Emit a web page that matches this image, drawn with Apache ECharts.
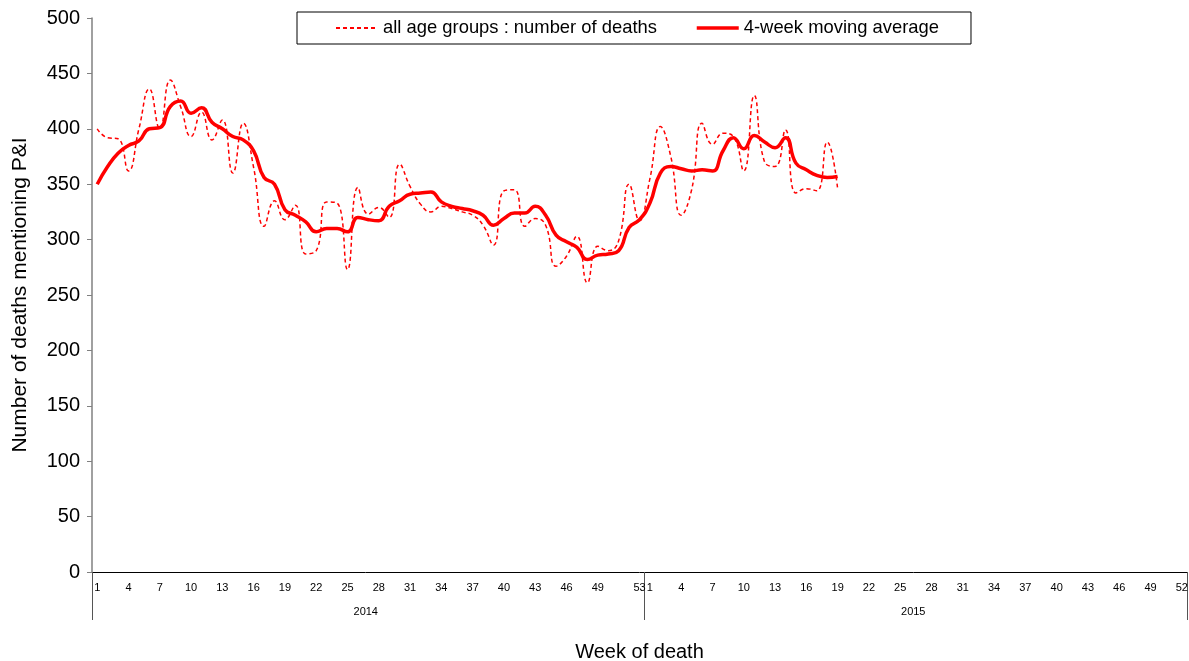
<!DOCTYPE html>
<html>
<head>
<meta charset="utf-8">
<script src="https://cdn.jsdelivr.net/npm/echarts@6/dist/echarts.min.js"></script>
<style>
html,body{margin:0;padding:0;background:#fff;}
#chart{width:1189px;height:661px;}
</style>
</head>
<body>
<div id="chart"></div>
<script>
const weeks2014 = ['1','2','3','4','5','6','7','8','9','10','11','12','13','14','15','16','17','18','19','20','21','22','23','24','25','26','27','28','29','30','31','32','33','34','35','36','37','38','39','40','41','42','43','44','45','46','47','48','49','50','51','52','53'];
const weeks2015 = ['1','2','3','4','5','6','7','8','9','10','11','12','13','14','15','16','17','18','19','20','21','22','23','24','25','26','27','28','29','30','31','32','33','34','35','36','37','38','39','40','41','42','43','44','45','46','47','48','49','50','51','52'];
const years = ['2014','2015'];

const deaths2014 = [400,392,391,362,400,436,400,444,420,393,415,390,408,360,405,365,312,335,318,331,287,290,334,333,273,347,323,329,320,368,348,332,325,330,328,325,322,313,295,344,345,312,319,313,276,285,303,261,294,290,299,350,317];
const deaths2015 = [355,402,375,322,345,405,386,396,393,362,430,370,366,399,342,346,344,388,346];

const avg2014 = [350,366,378,385,389,400,401,420,425,414,419,406,400,393,390,380,356,350,327,322,316,307,310,310,307,320,318,317,330,335,341,342,343,334,330,328,326,322,313,319,324,324,330,322,304,298,293,282,286,287,290,311,318];
const avg2015 = [333,360,366,364,362,363,362,380,392,382,394,388,383,392,369,363,358,356,357];

const yTicks = {min:0, max:500, interval:50};

const categories = weeks2014.concat(weeks2015);
const deaths = deaths2014.concat(deaths2015);
const avg = avg2014.concat(avg2015);
const n2014 = weeks2014.length;
const nAll = categories.length;

const FONT = '"Liberation Sans", Arial, sans-serif';
const chart = echarts.init(document.getElementById('chart'), null, {renderer:'canvas'});

chart.setOption({
  animation: false,
  textStyle: {fontFamily: FONT},
  grid: {left: 92, right: 2, top: 18, bottom: 89, containLabel: false, outerBoundsMode: 'none'},
  legend: {
    show: true,
    orient: 'horizontal',
    left: 297, top: 12, right: 'auto', bottom: 'auto',
    padding: [7, 32, 7, 38],
    itemGap: 38,
    itemWidth: 42, itemHeight: 12,
    borderColor: '#000', borderWidth: 1,
    itemStyle: {color: 'rgba(0,0,0,0)', borderColor: 'rgba(0,0,0,0)', borderWidth: 0, opacity: 0},
    textStyle: {fontFamily: FONT, fontSize: 18.4, color: '#000'},
    data: [
      {name: 'all age groups : number of deaths'},
      {name: '4-week moving average', lineStyle: {width: 3.5}}
    ]
  },
  xAxis: [
    {
      type: 'category', data: categories, boundaryGap: true,
      name: 'Week of death', nameLocation: 'middle', nameGap: 70,
      nameTextStyle: {fontFamily: FONT, fontSize: 20, color: '#000'},
      axisLine: {show: true, lineStyle: {color: '#000', width: 1}},
      axisTick: {show: false},
      axisLabel: {
        interval: function (i) {
          if (i < n2014) return (i % 3 === 0 && i < n2014 - 2) || i === n2014 - 1;
          return (i - n2014) % 3 === 0;
        },
        margin: 10, fontSize: 11, color: '#000', fontFamily: FONT
      },
      splitLine: {show: false}
    },
    {
      type: 'value', position: 'bottom', min: 0, max: nAll, interval: n2014,
      axisLine: {show: false},
      axisTick: {show: true, inside: false, length: 48, lineStyle: {color: '#555', width: 1}},
      axisLabel: {show: false},
      splitLine: {show: false}
    },
    {
      type: 'category', data: years, position: 'bottom',
      axisLine: {show: false}, axisTick: {show: false},
      axisLabel: {margin: 34, fontSize: 11, color: '#000', fontFamily: FONT},
      splitLine: {show: false}
    }
  ],
  yAxis: {
    type: 'value', min: yTicks.min, max: yTicks.max, interval: yTicks.interval,
    name: 'Number of deaths mentioning P&I', nameLocation: 'middle', nameGap: 61,
    nameTextStyle: {fontFamily: FONT, fontSize: 21, color: '#000'},
    axisLine: {show: true, lineStyle: {color: '#808080', width: 1.5}},
    axisTick: {show: true, length: 5, lineStyle: {color: '#808080'}},
    axisLabel: {fontSize: 20, color: '#000', margin: 12, fontFamily: FONT},
    splitLine: {show: false}
  },
  series: [
    {
      name: 'all age groups : number of deaths', type: 'line', data: deaths,
      symbol: 'none', smooth: 0.5,
      lineStyle: {color: '#ff0000', width: 1.5, type: [4,3]},
      itemStyle: {color: '#ff0000'}, z: 2
    },
    {
      name: '4-week moving average', type: 'line', data: avg,
      symbol: 'none', smooth: 0.5,
      lineStyle: {color: '#ff0000', width: 3.5},
      itemStyle: {color: '#ff0000'}, z: 3
    }
  ]
});
</script>
</body>
</html>
